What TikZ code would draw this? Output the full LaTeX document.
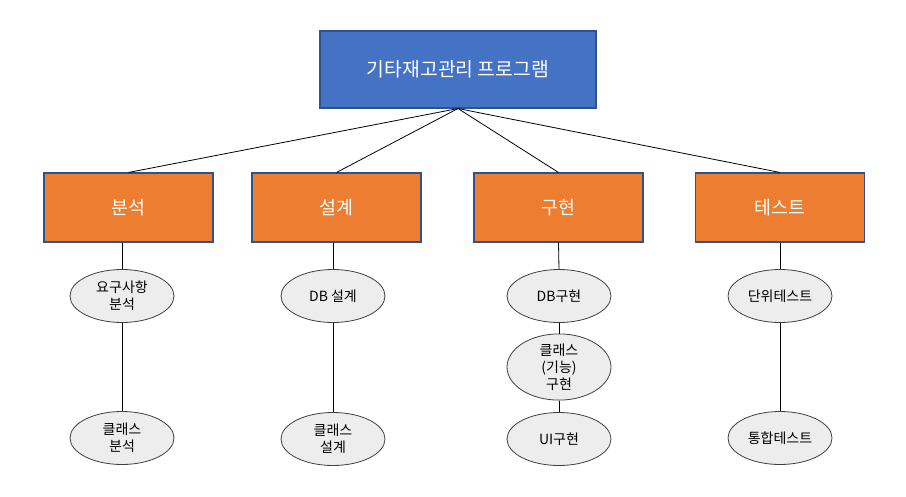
\documentclass[tikz,border=0pt]{standalone}
\usepackage{fontspec}
\setmainfont{Noto Sans CJK KR}
\usetikzlibrary{shapes.geometric}
\definecolor{topblue}{HTML}{4472C4}
\definecolor{topedge}{HTML}{2F528F}
\definecolor{orng}{HTML}{ED7D31}
\definecolor{ellfill}{HTML}{EDEDED}
\definecolor{elledge}{HTML}{404040}
\tikzset{
  topbox/.style={draw=topedge, fill=topblue, line width=0.8pt, minimum width=276*0.75pt, minimum height=77*0.75pt, inner sep=0pt, text=white, font=\fontsize{14.5pt}{17pt}\selectfont},
  midbox/.style={draw=topedge, fill=orng, line width=0.8pt, minimum width=169*0.75pt, minimum height=69*0.75pt, inner sep=0pt, text=white, font=\fontsize{13.8pt}{16pt}\selectfont},
  leaf/.style={ellipse, draw=elledge, fill=ellfill, line width=0.6pt, minimum width=104*0.75pt, minimum height=53*0.75pt, inner sep=0pt, align=center, font=\fontsize{10.5pt}{12.8pt}\selectfont},
  conn/.style={draw=black, line width=0.6pt}
}
\begin{document}
\begin{tikzpicture}[x=0.75pt,y=-0.75pt]
\useasboundingbox (0,0) rectangle (906,496);
\node[topbox] (top) at (458,69.5) {기타재고관리 프로그램};
\node[midbox] (a) at (128.5,207.5) {분석};
\node[midbox] (b) at (336.5,207.5) {설계};
\node[midbox] (c) at (558.5,207.5) {구현};
\node[midbox] (d) at (780,207.5) {테스트};
\coordinate (topb) at (top.south);
\node[leaf] (a1) at (122,296) {요구사항\\분석};
\node[leaf] (a2) at (122,438) {클래스\\분석};
\node[leaf] (b1) at (333,296) {DB 설계};
\node[leaf] (b2) at (333,439) {클래스\\설계};
\node[leaf] (c1) at (559,296) {DB구현};
\node[leaf] (c2) at (559,367) {클래스\\(기능)\\구현};
\node[leaf] (c3) at (559,439) {UI구현};
\node[leaf] (d1) at (780,296) {단위테스트};
\node[leaf] (d2) at (780,438) {통합테스트};
\draw[conn] (topb) -- (a.north);
\draw[conn] (topb) -- (b.north);
\draw[conn] (topb) -- (c.north);
\draw[conn] (topb) -- (d.north);
\draw[conn] (a.south -| a1.north) -- (a1.north);
\draw[conn] (a1.south) -- (a2.north);
\draw[conn] (b.south -| b1.north) -- (b1.north);
\draw[conn] (b1.south) -- (b2.north);
\draw[conn] (c.south) -- (c1.north);
\draw[conn] (c1.south) -- (c2.north);
\draw[conn] (c2.south) -- (c3.north);
\draw[conn] (d.south) -- (d1.north);
\draw[conn] (d1.south) -- (d2.north);
\end{tikzpicture}
\end{document}
